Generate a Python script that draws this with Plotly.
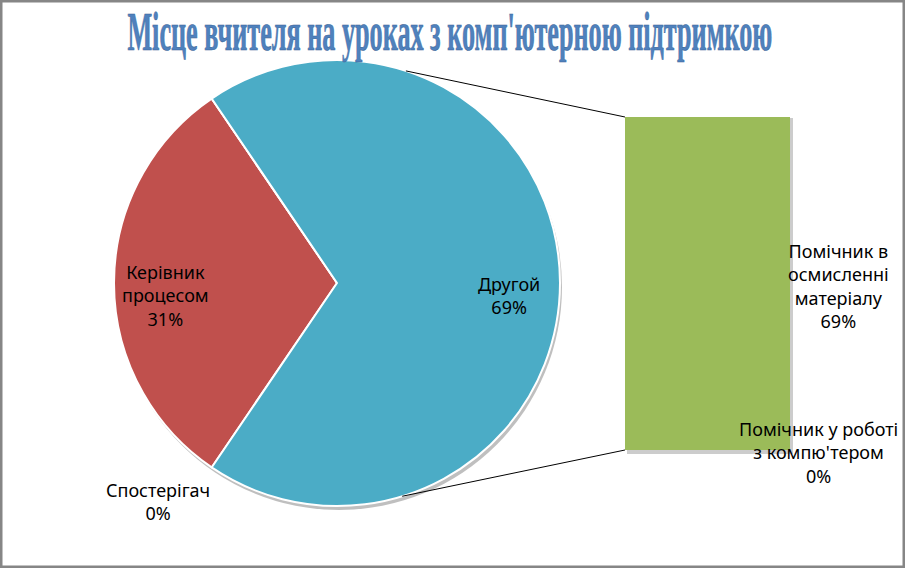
import math
import plotly.graph_objects as go

# ---- data ----
title_text = "Місце вчителя на уроках з комп'ютерною підтримкою"
pie_labels = ["Керівник процесом", "Спостерігач"]
pie_values = [31, 0]
other_label = "Другой"
bar_labels = ["Помічник у роботі з компю'тером", "Помічник в осмисленні матеріалу"]
bar_values = [0, 69]

W, H = 905, 568
RED, BLUE, GREEN = "#C0504D", "#4BACC6", "#9BBB59"
FONT = "Noto Sans, Open Sans, DejaVu Sans, sans-serif"
FS = 18

other_value = sum(bar_values)
labels = pie_labels + [other_label]
values = pie_values + [other_value]
total = sum(values)

# pie geometry (pixels)
cx, cy, r = 337, 283, 223
def px(x):
    return x / W
def py(y):
    return 1 - y / H

# red slice centred at 9 o'clock
rotation = 270 - values[0] / total * 360 / 2

fig = go.Figure()
fig.add_trace(go.Pie(
    labels=labels, values=values, sort=False, direction="clockwise",
    rotation=rotation,
    marker=dict(colors=[RED, "#9BBB59", BLUE], line=dict(color="white", width=2)),
    textinfo="none", hoverinfo="label+percent", showlegend=False,
    domain=dict(x=[px(cx - r), px(cx + r)], y=[py(cy + r), py(cy - r)]),
))

# secondary bar (stacked)
for lab, val in zip(bar_labels, bar_values):
    fig.add_trace(go.Bar(
        x=[0], y=[val], name=lab, marker=dict(color=GREEN, line=dict(width=0)),
        width=1, showlegend=False, hoverinfo="name+y",
    ))

bx0, bx1, by0, by1 = 625, 790, 117, 450
bt = sum(bar_values)
fig.update_layout(
    barmode="stack",
    xaxis=dict(domain=[px(bx0), px(bx1)], range=[-0.5, 0.5], visible=False),
    yaxis=dict(domain=[py(by1), py(by0)], range=[0, bt], visible=False),
)

def bar_y(v):
    # pixel y of a data value on the bar axis
    return by1 - (by1 - by0) * v / bt

def ann(x, y, text, size=FS, family=FONT, color="black"):
    return dict(x=x, y=y, xref="paper", yref="paper", xanchor="center", yanchor="middle",
                text=text, showarrow=False, align="center",
                font=dict(family=family, size=size, color=color))

annotations = []
# pie labels, computed from slice mid-angles
cum = 0
for lab, val in zip(labels, values):
    mid = (rotation + (cum + val / 2) / total * 360) % 360
    cum += val
    pct = round(val / total * 100)
    if val == 0:
        continue
    dist = 0.77 * r
    lx = cx + dist * math.sin(math.radians(mid))
    ly = cy - dist * math.cos(math.radians(mid)) + 12
    txt = lab.replace(" ", "<br>") + f"<br>{pct}%"
    annotations.append(ann(px(lx), py(ly), txt))
# zero slice label (outside)
annotations.append(ann(px(158), py(501),
                       f"{pie_labels[1]}<br>{round(pie_values[1] / total * 100)}%"))
# bar labels (percent of whole)
annotations.append(ann(px(838), py(bar_y(bar_values[0] + bar_values[1] / 2) + 2),
                       "Помічник в<br>осмисленні<br>матеріалу<br>" + f"{round(bar_values[1] / total * 100)}%"))
annotations.append(ann(px(818), py(bar_y(bar_values[0] / 2) + 2),
                       "Помічник у роботі<br>з компю'тером<br>" + f"{round(bar_values[0] / total * 100)}%"))
# title
annotations.append(ann(px(450), py(32), f"<b>{title_text}</b>", size=54,
                       family="Liberation Serif, DejaVu Serif, serif", color="#4F81BD"))

shapes = []
# pie shadow
shapes.append(dict(type="circle", xref="paper", yref="paper",
                   x0=px(cx - r + 2), x1=px(cx + r + 2), y0=py(cy + r + 4), y1=py(cy - r + 4),
                   fillcolor="rgba(0,0,0,0.25)", line=dict(width=0), layer="below"))
# bar shadow
shapes.append(dict(type="rect", xref="paper", yref="paper",
                   x0=px(bx0 + 2), x1=px(bx1 + 3), y0=py(by1 + 4), y1=py(by0 + 1),
                   fillcolor="rgba(0,0,0,0.2)", line=dict(width=0), layer="below"))
# connector lines
for ang, (tx, ty) in [(18, (bx0, by0)), (163, (bx0, by1))]:
    sx = cx + r * math.sin(math.radians(ang))
    sy = cy - r * math.cos(math.radians(ang))
    shapes.append(dict(type="line", xref="paper", yref="paper",
                       x0=px(sx), y0=py(sy), x1=px(tx), y1=py(ty),
                       line=dict(color="black", width=1)))
# outer border
shapes.append(dict(type="rect", xref="paper", yref="paper", x0=0, x1=1, y0=0, y1=1,
                   line=dict(color="#868686", width=5), fillcolor="rgba(0,0,0,0)"))

fig.update_layout(
    width=W, height=H, margin=dict(l=0, r=0, t=0, b=0),
    paper_bgcolor="white", plot_bgcolor="rgba(0,0,0,0)",
    annotations=annotations, shapes=shapes,
)

post = """
document.body.style.margin = '0';
document.body.style.overflow = 'hidden';
document.querySelectorAll('text.annotation-text').forEach(function (t) {
  if (t.textContent.indexOf('Місце') === 0) {
    t.setAttribute('textLength', '645');
    t.setAttribute('lengthAdjust', 'spacingAndGlyphs');
    t.setAttribute('stroke', '#3A6496');
    t.setAttribute('stroke-width', '0.6');
  }
});
"""
fig.write_html("out.html", post_script=post, config={"displayModeBar": False})
